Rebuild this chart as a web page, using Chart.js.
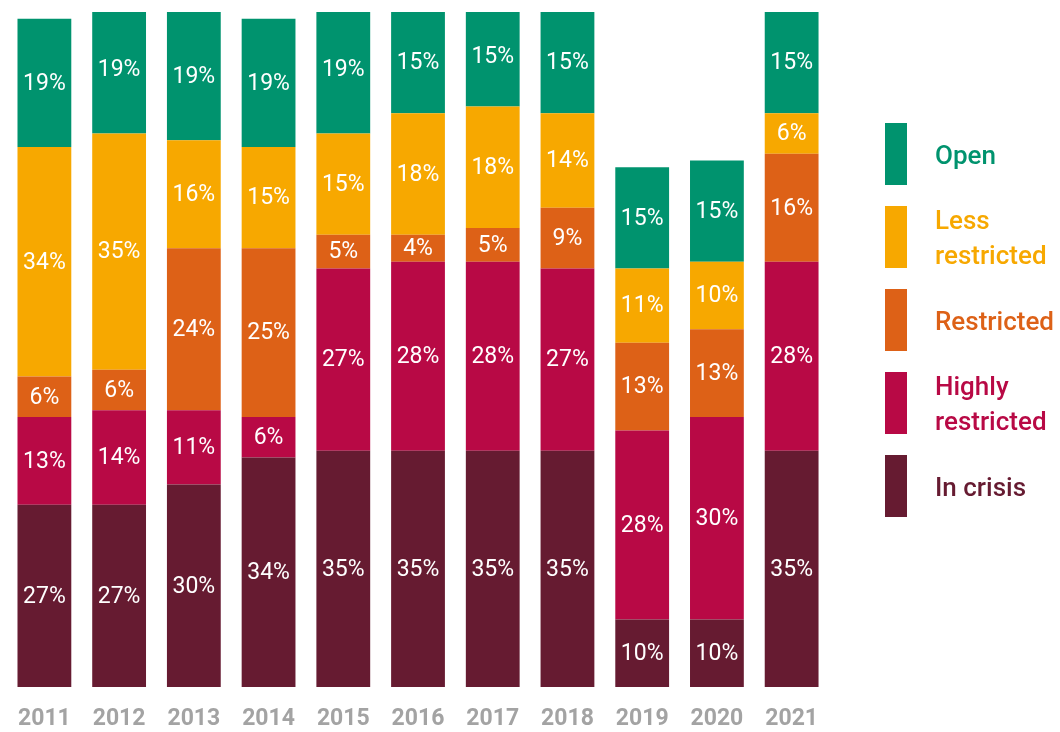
<!DOCTYPE html>
<html>
<head>
<meta charset="utf-8">
<script src="https://cdn.jsdelivr.net/npm/chart.js@4"></script>
<style>
  html, body { margin: 0; padding: 0; background: #ffffff; }
  #wrap { width: 1060px; height: 732px; position: relative; }
</style>
</head>
<body>
<div id="wrap"><canvas id="chart" width="1060" height="732"></canvas></div>
<script>
// Share of countries by status, per year (percent)
const years = ['2011', '2012', '2013', '2014', '2015', '2016', '2017', '2018', '2019', '2020', '2021'];
const inCrisis         = [27, 27, 30, 34, 35, 35, 35, 35, 10, 10, 35];
const highlyRestricted = [13, 14, 11, 6, 27, 28, 28, 27, 28, 30, 28];
const restricted       = [6, 6, 24, 25, 5, 4, 5, 9, 13, 13, 16];
const lessRestricted   = [34, 35, 16, 15, 15, 18, 18, 14, 11, 10, 6];
const open             = [19, 19, 19, 19, 19, 15, 15, 15, 15, 15, 15];

const seriesNames  = ['In crisis', 'Highly restricted', 'Restricted', 'Less restricted', 'Open'];
const legendLines  = [['In crisis'], ['Highly', 'restricted'], ['Restricted'], ['Less', 'restricted'], ['Open']];
const seriesColors = ['#661b31', '#b80945', '#dd6117', '#f7a800', '#00936e'];
const seriesValues = [inCrisis, highlyRestricted, restricted, lessRestricted, open];

const FONT = 'Roboto, "Noto Sans", sans-serif';

// White percentage text centred in each segment
const segmentLabels = {
  id: 'segmentLabels',
  afterDatasetsDraw(chart) {
    const ctx = chart.ctx;
    ctx.save();
    ctx.fillStyle = '#ffffff';
    ctx.font = '400 23px ' + FONT;
    ctx.textAlign = 'center';
    ctx.textBaseline = 'middle';
    chart.data.datasets.forEach((ds, i) => {
      const meta = chart.getDatasetMeta(i);
      meta.data.forEach((bar, j) => {
        const v = ds.data[j];
        const cy = (bar.y + bar.base) / 2;
        ctx.fillText(v + '%', bar.x, cy + 1);
      });
    });
    ctx.restore();
  }
};

// Legend on the right: tall swatches with coloured, wrapped names (top series first)
const sideLegend = {
  id: 'sideLegend',
  afterDraw(chart) {
    const ctx = chart.ctx;
    const swX = 885, swW = 22, swH = 62;
    const tops = [123, 206, 289, 372, 455];
    const textX = 935, lineH = 35;
    ctx.save();
    ctx.font = '500 26px ' + FONT;
    ctx.textAlign = 'left';
    ctx.textBaseline = 'middle';
    for (let k = 0; k < seriesNames.length; k++) {
      const idx = seriesNames.length - 1 - k;
      const top = tops[k];
      ctx.fillStyle = seriesColors[idx];
      ctx.fillRect(swX, top, swW, swH);
      const lines = legendLines[idx];
      const mid = top + swH / 2 + 3;
      const start = mid - (lines.length - 1) * lineH / 2;
      lines.forEach((ln, n) => ctx.fillText(ln, textX, start + n * lineH));
    }
    ctx.restore();
  }
};

new Chart(document.getElementById('chart'), {
  type: 'bar',
  data: {
    labels: years,
    datasets: seriesValues.map((vals, i) => ({
      label: seriesNames[i],
      data: vals,
      backgroundColor: seriesColors[i],
      borderWidth: 0,
      categoryPercentage: 1,
      barPercentage: 0.72
    }))
  },
  options: {
    responsive: false,
    animation: false,
    layout: { padding: { left: -1, right: 231, top: 12, bottom: 0 } },
    plugins: {
      legend: { display: false },
      tooltip: { enabled: false }
    },
    scales: {
      x: {
        stacked: true,
        grid: { display: false, drawTicks: false },
        border: { display: false },
        ticks: {
          color: '#a3a3a3',
          padding: 18,
          font: { family: FONT, size: 23, weight: 'bold' }
        },
        afterFit(scale) { scale.height = 45; }
      },
      y: {
        stacked: true,
        display: false,
        min: 0,
        max: 100
      }
    }
  },
  plugins: [segmentLabels, sideLegend]
});
</script>
</body>
</html>
